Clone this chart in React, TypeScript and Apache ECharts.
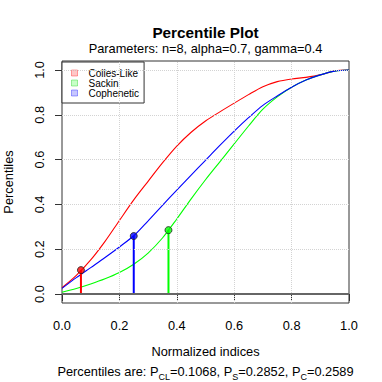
import React, { useEffect, useRef } from "react";
import * as echarts from "echarts";

const xs = [0, 0.05, 0.1, 0.15, 0.2, 0.25, 0.3, 0.35, 0.4, 0.45, 0.5, 0.55, 0.6, 0.65, 0.7, 0.75, 0.8, 0.85, 0.9, 0.95, 1.0];
const collesLike = [0.028, 0.083, 0.152, 0.235, 0.328, 0.42, 0.503, 0.585, 0.66, 0.722, 0.772, 0.813, 0.852, 0.89, 0.925, 0.948, 0.96, 0.967, 0.978, 0.996, 1.0];
const sackin = [0.008, 0.025, 0.045, 0.068, 0.096, 0.133, 0.183, 0.25, 0.335, 0.425, 0.51, 0.59, 0.67, 0.75, 0.825, 0.88, 0.923, 0.955, 0.978, 0.995, 1.0];
const cophenetic = [0.025, 0.073, 0.118, 0.163, 0.21, 0.26, 0.327, 0.396, 0.464, 0.531, 0.597, 0.663, 0.727, 0.787, 0.842, 0.884, 0.923, 0.955, 0.978, 0.995, 1.0];

const seriesNames = ["Colles-Like", "Sackin", "Cophenetic"];
const seriesColors = ["#FF0000", "#00FF00", "#0000FF"];
const legendFills = ["rgba(255,0,0,0.22)", "rgba(0,255,0,0.22)", "rgba(0,0,255,0.22)"];
const legendBorders = ["rgba(255,0,0,0.35)", "rgba(0,200,0,0.35)", "rgba(0,0,255,0.35)"];
const markerX = [0.066, 0.371, 0.25];
const percentiles = [0.1068, 0.2852, 0.2589];
const percentileSubs = ["CL", "S", "C"];
const xTicks = [0, 0.2, 0.4, 0.6, 0.8, 1.0];
const yTicks = [0, 0.2, 0.4, 0.6, 0.8, 1.0];

const titleText = "Percentile Plot";
const subtitleText = "Parameters: n=8, alpha=0.7, gamma=0.4";
const xName = "Normalized indices";
const yName = "Percentiles";

const FONT = "'Liberation Sans', Arial, Helvetica, sans-serif";
const FS = 12.8;

export default function App() {
  const ref = useRef<HTMLDivElement>(null);
  useEffect(() => {
    if (!ref.current) return;
    const chart = echarts.init(ref.current, null, { renderer: "svg" });
    const curves = [collesLike, sackin, cophenetic];
    const gridLineStyle = { color: "#d3d3d3", type: "dotted", width: 1 };
    const caption =
      "Percentiles are: " +
      percentiles
        .map((p, i) => "P{s|" + percentileSubs[i] + "}{m|=" + p.toFixed(4) + "}")
        .join("{m|, }");
    const option: any = {
      animation: false,
      textStyle: { fontFamily: FONT },
      grid: {
        left: 62,
        right: 33,
        top: 61,
        bottom: 79,
        containLabel: false,
        outerBoundsMode: "none",
        show: true,
        borderColor: "#333",
        borderWidth: 1,
        backgroundColor: "transparent",
      },
      legend: {
        left: 62,
        top: 62,
        orient: "vertical",
        icon: "rect",
        itemWidth: 6,
        itemHeight: 6,
        itemGap: 0,
        padding: [6, 5, 5, 9],
        backgroundColor: "#fff",
        borderColor: "#333",
        borderWidth: 1,
        selectedMode: false,
        data: seriesNames.map((n, i) => ({
          name: n,
          itemStyle: { color: legendFills[i], borderColor: legendBorders[i], borderWidth: 1 },
        })),
        formatter: (n: string) => "{a|" + n + "}",
        textStyle: {
          rich: {
            a: { fontSize: 10, lineHeight: 11.7, padding: [0, 0, 0, 6], color: "#000", fontFamily: FONT },
          },
        },
      },
      xAxis: {
        type: "value",
        min: 0,
        max: 1,
        interval: 0.2,
        name: xName,
        nameLocation: "middle",
        nameGap: 42,
        nameTextStyle: { fontSize: FS, color: "#000" },
        axisLine: { show: false },
        axisTick: { show: true, length: 7, lineStyle: { color: "#333" } },
        axisLabel: { fontSize: FS, color: "#000", margin: 16, formatter: (v: number) => v.toFixed(1) },
        splitLine: { show: false },
      },
      yAxis: {
        type: "value",
        min: -0.04,
        max: 1.04,
        name: yName,
        nameLocation: "middle",
        nameRotate: 90,
        nameGap: 47,
        nameTextStyle: { fontSize: FS, color: "#000" },
        axisLine: { show: false },
        axisTick: { show: true, length: 7, customValues: yTicks, lineStyle: { color: "#333" } },
        axisLabel: {
          fontSize: FS,
          color: "#000",
          margin: 16,
          rotate: 90,
          customValues: yTicks,
          formatter: (v: number) => v.toFixed(1),
        },
        splitLine: { show: false },
      },
      graphic: [
        {
          type: "text",
          x: 205.5,
          y: 32.5,
          style: { text: titleText, font: "bold 15.3px " + FONT, fill: "#000", textAlign: "center", textVerticalAlign: "middle" },
        },
        {
          type: "text",
          x: 205.5,
          y: 48.5,
          style: { text: subtitleText, font: FS + "px " + FONT, fill: "#000", textAlign: "center", textVerticalAlign: "middle" },
        },
        {
          type: "text",
          x: 205.5,
          y: 371,
          style: {
            text: caption,
            font: FS + "px " + FONT,
            fill: "#000",
            textAlign: "center",
            textVerticalAlign: "middle",
            rich: {
              s: { fontSize: 9, fontFamily: FONT, fill: "#000", verticalAlign: "bottom", lineHeight: 9, padding: [0, 0, -3, 0] },
              m: { fontSize: FS, fontFamily: FONT, fill: "#000", lineHeight: 14 },
            },
          },
        },
      ],
      series: [
        {
          type: "line",
          name: "_grid",
          data: [],
          silent: true,
          showSymbol: false,
          markLine: {
            silent: true,
            symbol: ["none", "none"],
            label: { show: false },
            animation: false,
            data: [
              ...xTicks.filter((t) => t > 0 && t < 1).map((t) => ({ xAxis: t, lineStyle: gridLineStyle })),
              ...yTicks.filter((t) => t > 0).map((t) => ({ yAxis: t, lineStyle: gridLineStyle })),
              { yAxis: 0, lineStyle: { color: "#666", width: 2, type: "solid" } },
            ],
          },
        },
        ...curves.map((c, i) => ({
          type: "line",
          name: seriesNames[i],
          data: xs.map((x, j) => [x, c[j]]),
          smooth: 0.3,
          showSymbol: false,
          lineStyle: { color: seriesColors[i], width: 1.1 },
          itemStyle: { color: seriesColors[i] },
          z: 3,
        })),
        ...markerX.map((x, i) => ({
          type: "line",
          name: "_v" + i,
          data: [
            [x, 0],
            [x, percentiles[i]],
          ],
          showSymbol: false,
          lineStyle: { color: seriesColors[i], width: 2 },
          z: 4,
        })),
        {
          type: "scatter",
          name: "_markers",
          symbolSize: 7,
          z: 5,
          data: markerX.map((x, i) => ({
            value: [x, percentiles[i]],
            itemStyle: { color: seriesColors[i], borderColor: "#222", borderWidth: 1 },
          })),
        },
      ],
    };
    chart.setOption(option);
    return () => chart.dispose();
  }, []);
  return (
    <div
      ref={ref}
      style={{ position: "fixed", left: 0, top: 0, width: 382, height: 382, background: "#fff" }}
    />
  );
}
